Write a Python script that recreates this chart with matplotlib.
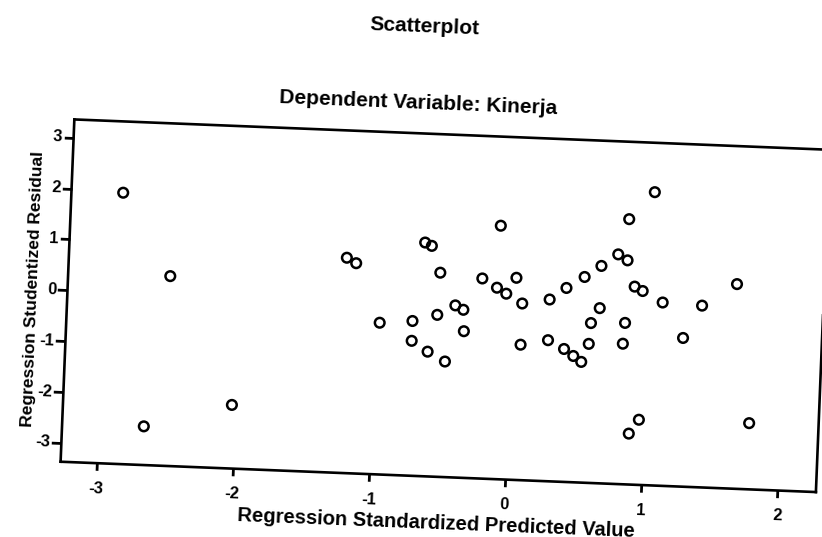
import matplotlib
matplotlib.use('Agg')
import matplotlib.pyplot as plt
from matplotlib.lines import Line2D
from matplotlib.transforms import Affine2D
import mpl_toolkits.axisartist.floating_axes as floating_axes
from mpl_toolkits.axisartist.grid_finder import FixedLocator, DictFormatter

# values
pred = [-2.89, -2.52, -2.03, -2.67, -1.23, -1.16, -0.97, -0.73, -0.73,
        1.01, 0.83, -0.11, -0.66, -0.61, 0.76, 0.83, -0.54, 0.64, 0.52,
        -0.23, 0.02, 1.64, -0.12, -0.05, 0.39, 0.89, 0.95, 0.27, 0.07,
        1.10, 1.39, -0.42, -0.36, 0.64, -0.55, 0.58, 0.83, -0.35, 1.26,
        -0.61, -0.48, 0.07, 0.27, 0.57, 0.82, 0.39, 0.46, 0.52, 0.96,
        0.89, 1.77]
resid = [1.96, 0.36, -2.12, -2.61, 0.86, 0.76, -0.39, -0.33, -0.72,
         2.39, 1.84, 1.61, 1.22, 1.16, 1.14, 1.03, 0.64, 0.90, 0.67,
         0.56, 0.60, 0.65, 0.39, 0.28, 0.44, 0.52, 0.44, 0.20, 0.10,
         0.23, 0.20, 0.01, -0.07, 0.07, -0.19, -0.23, -0.20, -0.49, -0.45,
         -0.92, -1.10, -0.71, -0.60, -0.64, -0.61, -0.76, -0.89, -1.00, -2.09,
         -2.37, -2.07]

xticks = [-3, -2, -1, 0, 1, 2]
yticks = [-3, -2, -1, 0, 1, 2, 3]
xlims = (-3.27, 2.28)
ylims = (-3.37, 3.36)

title = 'Scatterplot'
subtitle = 'Dependent Variable: Kinerja'
xlabel = 'Regression Standardized Predicted Value'
ylabel = 'Regression Studentized Residual'

plt.rcParams['font.family'] = ['Liberation Sans', 'DejaVu Sans']
plt.rcParams['font.weight'] = 'bold'

W, H = 822, 537
# the page was scanned a bit crooked, so the whole plot is tilted
tilt = -2.3
tr = Affine2D().scale(136.2, 50.9).rotate_deg(tilt)

gh = floating_axes.GridHelperCurveLinear(
    tr, extremes=(xlims[0], xlims[1], ylims[0], ylims[1]),
    grid_locator1=FixedLocator(xticks), grid_locator2=FixedLocator(yticks),
    tick_formatter1=DictFormatter({v: str(v) for v in xticks}),
    tick_formatter2=DictFormatter({v: str(v) for v in yticks}))

fig = plt.figure(figsize=(W / 100, H / 100), dpi=100)
ax = fig.add_axes([0, 0, 1, 1], axes_class=floating_axes.FloatingAxes, grid_helper=gh)
# host axes in pixel units, data origin at (512, 308) from the top left
ox, oy = 512.5, H - 308.2
ax.set_xlim(-ox, W - ox)
ax.set_ylim(-oy, H - oy)

for side in ['left', 'bottom', 'top', 'right']:
    a = ax.axis[side]
    a.line.set_linewidth(1.9)
    a.minor_ticks.set_visible(False)
    if side in ['top', 'right']:
        a.major_ticks.set_visible(False)
        a.major_ticklabels.set_visible(False)
        continue
    a.major_ticks.set_tick_out(True)
    a.major_ticks.set_ticksize(7)
    a.major_ticks.set_markeredgewidth(2.0)
    a.major_ticks.set_color('black')
    a.major_ticklabels.set_fontsize(12)
    a.major_ticklabels.set_fontweight('bold')
    a.label.set_fontweight('bold')

ax.axis['bottom'].major_ticks.set_visible(False)
ax.axis['bottom'].major_ticklabels.set_pad(13)
ax.axis['left'].major_ticklabels.set_pad(1)
ax.axis['bottom'].label.set_fontsize(14.5)
ax.axis['left'].label.set_fontsize(12.5)
ax.axis['left'].label.set_pad(1)
ax.axis['bottom'].set_label(xlabel)
ax.axis['left'].set_label(ylabel)

aux = ax.get_aux_axes(tr)
aux.scatter(pred, resid, s=48, facecolors='none', edgecolors='black', linewidths=1.8)

# bottom tick marks get lost on the tilted axis, so add them at figure level
for t in xticks:
    fig.add_artist(Line2D([t, t], [ylims[0], ylims[0] - 0.15],
                          transform=tr + ax.transData, color='black', lw=2,
                          solid_capstyle='butt'))

fig.text(425 / W, 1 - 27 / H, title, ha='center', va='center',
         fontsize=15, fontweight='bold', rotation=tilt)
fig.text(418 / W, 1 - 103 / H, subtitle, ha='center', va='center',
         fontsize=15, fontweight='bold', rotation=tilt)

fig.savefig('out.png', dpi=100)
